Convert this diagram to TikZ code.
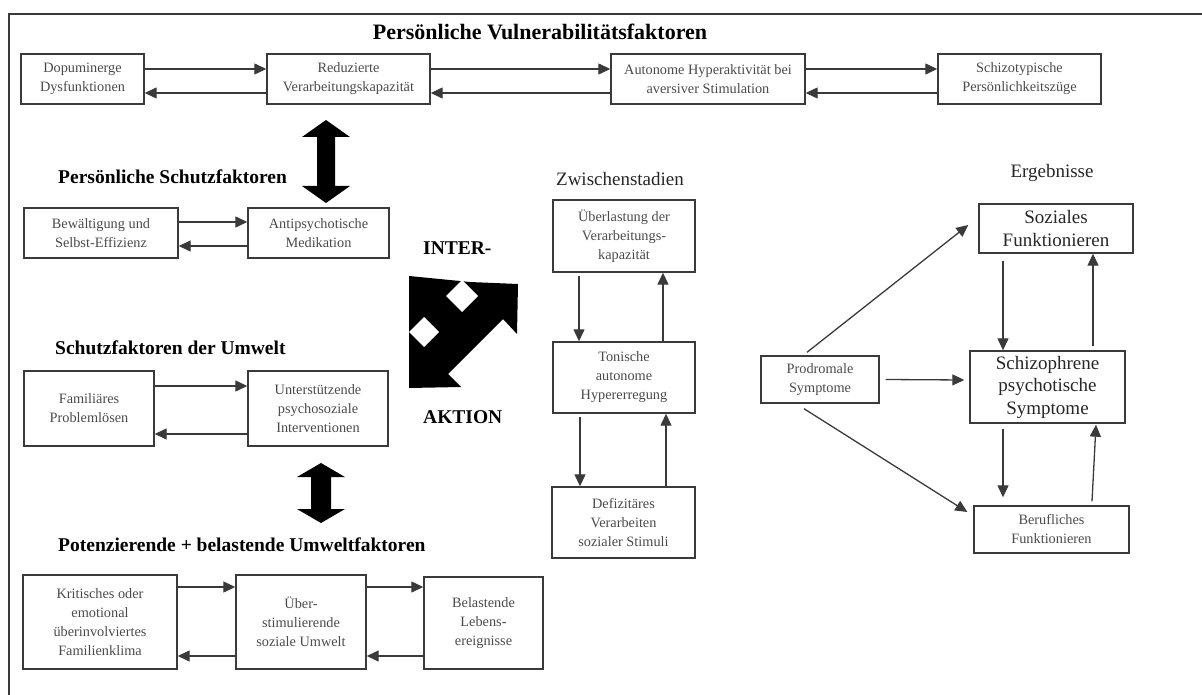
\documentclass[tikz,border=0pt]{standalone}
\usepackage{fontspec}
\setmainfont{Liberation Serif}
\usetikzlibrary{arrows.meta,calc}

\definecolor{ink}{HTML}{3A3A3A}
\definecolor{txt}{HTML}{4A4A4A}

\tikzset{
  box/.style={draw=ink, line width=1.4pt, align=center, inner sep=0pt,
    text=txt, font=\fontsize{14.3}{19}\selectfont},
  bigbox/.style={box, text=black!85, font=\fontsize{19}{22.5}\selectfont},
  wh/.style 2 args={minimum width=#1pt, minimum height=#2pt},
  arr/.style={draw=ink, line width=1.3pt, -{Triangle[length=12pt,width=11pt]}},
  heading/.style={inner sep=0pt, font=\bfseries\fontsize{19.5}{22}\selectfont},
  plainhead/.style={inner sep=0pt, text=black!85, font=\fontsize{19}{22}\selectfont},
  frameline/.style={draw=ink, line width=1.5pt},
}

\begin{document}
\begin{tikzpicture}[x=1pt,y=-1pt]
\useasboundingbox (0,0) rectangle (1202,695);

% frame
\draw[frameline] (9,695) -- (9,14) -- (1202,14);

% ---------- headings ----------
\node[heading, font=\bfseries\fontsize{22}{25}\selectfont] (hVul) at (540,32) {Persönliche Vulnerabilitätsfaktoren};
\node[heading, anchor=west] (hSchutz) at (58,177) {Persönliche Schutzfaktoren};
\node[heading, anchor=west] (hUmwelt) at (55,348) {Schutzfaktoren der Umwelt};
\node[heading, anchor=west] (hPot) at (58,545) {Potenzierende + belastende Umweltfaktoren};
\node[heading, anchor=west] (hInter) at (423,248) {INTER-};
\node[heading, anchor=west] (hAktion) at (423,417) {AKTION};
\node[plainhead] (hZwi) at (620,179) {Zwischenstadien};
\node[plainhead] (hErg) at (1052,173) {Ergebnisse};

% ---------- personal vulnerability ----------
\node[box, wh={123}{50}] (v1) at (82.5,79) {Dopuminerge\\Dysfunktionen};
\node[box, wh={163}{50}] (v2) at (348.5,79) {Reduzierte\\Verarbeitungskapazität};
\node[box, wh={194}{50}] (v3) at (708,79) {Autonome Hyperaktivität bei\\aversiver Stimulation};
\node[box, wh={163}{50}] (v4) at (1019.5,79) {Schizotypische\\Persönlichkeitszüge};

\foreach \a/\b in {v1/v2, v2/v3, v3/v4}{
  \draw[arr] ([yshift=10pt]\a.east) -- ([yshift=10pt]\b.west);
  \draw[arr] ([yshift=-14pt]\b.west) -- ([yshift=-14pt]\a.east);
}

% ---------- personal protective factors ----------
\node[box, wh={154}{50}] (s1) at (101,233) {Bewältigung und\\Selbst-Effizienz};
\node[box, wh={141}{50}] (s2) at (318.5,233) {Antipsychotische\\Medikation};
\draw[arr] ([yshift=11pt]s1.east) -- ([yshift=11pt]s2.west);
\draw[arr] ([yshift=-13pt]s2.west) -- ([yshift=-13pt]s1.east);

% ---------- environmental protective factors ----------
\node[box, wh={130}{75}] (u1) at (89,408.5) {Familiäres\\Problemlösen};
\node[box, wh={140}{75}] (u2) at (318,408.5) {Unterstützende\\psychosoziale\\Interventionen};
\draw[arr] ([yshift=22.5pt]u1.east) -- ([yshift=22.5pt]u2.west);
\draw[arr] ([yshift=-25.5pt]u2.west) -- ([yshift=-25.5pt]u1.east);

% ---------- potentiating environmental factors ----------
\node[box, wh={154}{94}] (p1) at (100,622) {Kritisches oder\\emotional\\überinvolviertes\\Familienklima};
\node[box, wh={130}{94}] (p2) at (301,622) {Über-\\stimulierende\\soziale Umwelt};
\node[box, wh={119}{92}] (p3) at (483.5,623) {Belastende\\Lebens-\\ereignisse};
\draw[arr] ([yshift=35pt]p1.east) -- ([yshift=35pt]p2.west);
\draw[arr] ([yshift=-34pt]p2.west) -- ([yshift=-34pt]p1.east);
\draw[arr] ([yshift=35pt]p2.east) -- ([yshift=36pt]p3.west);
\draw[arr] ([yshift=-33pt]p3.west) -- ([yshift=-34pt]p2.east);

% ---------- big double arrows ----------
\fill (326,120) -- (350,137) -- (335,137) -- (335,186) -- (350,186) -- (326,203)
      -- (302,186) -- (317,186) -- (317,137) -- (302,137) -- cycle;
\fill (321,463) -- (345,477) -- (331,477) -- (331,509) -- (345,509) -- (321,523)
      -- (297,509) -- (311,509) -- (311,477) -- (297,477) -- cycle;

% interaction symbol
\fill (409,276) -- (470,282) -- (518,284) -- (517,334) -- (503,319) -- (448,374)
      -- (461,387) -- (409,388) -- cycle;
\fill[white] (462,280) -- (478,296) -- (462,312) -- (446,296) -- cycle;
\fill[white] (424,317) -- (439,332) -- (424,347) -- (409,332) -- cycle;

% ---------- intermediate stages ----------
\node[box, wh={142}{72}] (z1) at (624,236) {Überlastung der\\Verarbeitungs-\\kapazität};
\node[box, wh={142}{71}] (z2) at (624,377.5) {Tonische\\autonome\\Hypererregung};
\node[box, wh={143}{71}] (z3) at (623.5,522.5) {Defizitäres\\Verarbeiten\\sozialer Stimuli};
\draw[arr] ([xshift=-45pt,yshift=-3pt]z1.south) -- ([xshift=-45pt]z2.north);
\draw[arr] ([xshift=39pt]z2.north) -- ([xshift=39pt]z1.south);
\draw[arr] ([xshift=-44pt,yshift=-3pt]z2.south) -- ([xshift=-43.5pt]z3.north);
\draw[arr] ([xshift=42.5pt]z3.north) -- ([xshift=42pt]z2.south);

% ---------- outcomes ----------
\node[box, wh={118}{47}] (pr) at (820,379.5) {Prodromale\\Symptome};
\node[bigbox, wh={154}{49}] (o1) at (1056,228.5) {Soziales\\Funktionieren};
\node[bigbox, wh={155}{72}] (o2) at (1047.5,387) {Schizophrene\\psychotische\\Symptome};
\node[box, wh={155}{47}] (o3) at (1051.5,529.5) {Berufliches\\Funktionieren};

\draw[arr] ([xshift=-13pt,yshift=3pt]pr.north) -- ($(o1.west)+(-10,-3.5)$);
\draw[arr] ([xshift=6pt]pr.east) -- ([xshift=-5pt,yshift=7pt]o2.west);
\draw[arr] ([xshift=-16pt,yshift=-5pt]pr.south) -- ($(o3.west)+(-6,-17.5)$);

\draw[arr] ([xshift=-53pt,yshift=-7pt]o1.south) -- ([xshift=-44.5pt]o2.north);
\draw[arr] ([xshift=45.5pt,yshift=4pt]o2.north) -- ([xshift=37pt]o1.south);
\draw[arr] ([xshift=-44.5pt,yshift=-5pt]o2.south) -- ([xshift=-48.5pt,yshift=8pt]o3.north);
\draw[arr] ([xshift=40.5pt,yshift=4pt]o3.north) -- ([xshift=48.5pt,yshift=-1pt]o2.south);
\end{tikzpicture}
\end{document}
